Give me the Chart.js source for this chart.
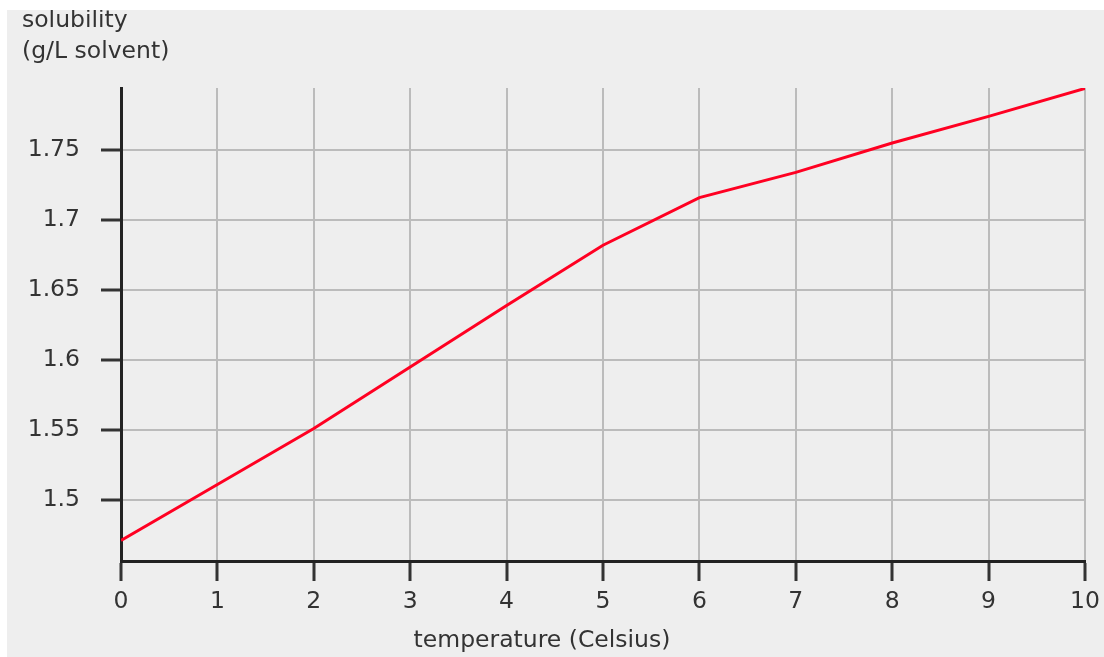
<!DOCTYPE html>
<html lang="en">
<head>
  <meta charset="UTF-8">
  <title>solubility</title>
  <style>
    body { margin: 0; background: #ffffff; overflow: hidden; }
    .plot-box {
      position: absolute;
      left: 7px;
      top: 10px;
      width: 1097px;
      height: 647px;
      background: #eeeeee;
    }
  </style>
</head>
<body>
  <div class="plot-box">
    <canvas id="chart1" width="1097" height="647"></canvas>
  </div>

  <script src="https://cdn.jsdelivr.net/npm/chart.js@4/dist/chart.umd.min.js"></script>
  <script>
    // temperature (Celsius) vs solubility
    const temperature = [0, 1, 2, 3, 4, 5, 6, 7, 8, 9, 10];
    const solubility = [1.471, 1.511, 1.551, 1.595, 1.639, 1.682, 1.716, 1.734, 1.755, 1.774, 1.794];
    const yTickValues = [1.5, 1.55, 1.6, 1.65, 1.7, 1.75];
    const xTitle = "temperature (Celsius)";
    const yTitle = ["solubility", "(g/L solvent)"];

    const FONT = "'DejaVu Sans', sans-serif";
    const SIZE = 23.5;
    const TEXT = "#333333";

    // axis titles drawn by hand, like the original
    const titlePlugin = {
      id: "axisTitles",
      afterDraw(chart) {
        const ctx = chart.ctx;
        ctx.save();
        ctx.fillStyle = TEXT;
        ctx.font = SIZE + "px " + FONT;
        ctx.textBaseline = "middle";
        ctx.textAlign = "left";
        ctx.fillText(yTitle[0], 15, 11);
        ctx.fillText(yTitle[1], 15, 42);
        ctx.textAlign = "center";
        ctx.fillText(xTitle, 535, 631);
        ctx.restore();
      }
    };

    new Chart(document.getElementById("chart1"), {
      type: "line",
      data: {
        labels: temperature,
        datasets: [
          {
            data: temperature.map((t, i) => ({ x: t, y: solubility[i] })),
            borderColor: "#ff0022",
            borderWidth: 3,
            pointRadius: 0,
            tension: 0,
            fill: false,
          },
        ],
      },
      options: {
        responsive: false,
        animation: false,
        layout: { padding: { top: 78, right: 19, left: 0, bottom: 0 } },
        plugins: {
          legend: { display: false },
          tooltip: { enabled: false },
        },
        scales: {
          x: {
            type: "linear",
            min: 0,
            max: 10,
            ticks: {
              stepSize: 1,
              color: TEXT,
              font: { family: FONT, size: SIZE },
              padding: 7,
              maxRotation: 0,
            },
            grid: {
              color: "#bbbbbb",
              lineWidth: 2,
              tickColor: "#333333",
              tickWidth: 3,
              tickLength: 20,
            },
            border: { color: "#222222", width: 3 },
            afterFit(scale) {
              scale.height = 96;
              scale.paddingLeft = 0;
              scale.paddingRight = 0;
            },
          },
          y: {
            type: "linear",
            min: 1.4564,
            max: 1.7943,
            afterBuildTicks(scale) {
              scale.ticks = yTickValues.map(v => ({ value: v }));
            },
            ticks: {
              color: TEXT,
              font: { family: FONT, size: SIZE },
              padding: 21,
              callback: v => String(v),
            },
            grid: {
              color: "#bbbbbb",
              lineWidth: 2,
              tickColor: "#333333",
              tickWidth: 3,
              tickLength: 20,
            },
            border: { color: "#222222", width: 3 },
            afterFit(scale) {
              scale.width = 114;
              scale.paddingTop = 0;
              scale.paddingBottom = 0;
            },
          },
        },
      },
      plugins: [titlePlugin],
    });
  </script>
</body>
</html>
